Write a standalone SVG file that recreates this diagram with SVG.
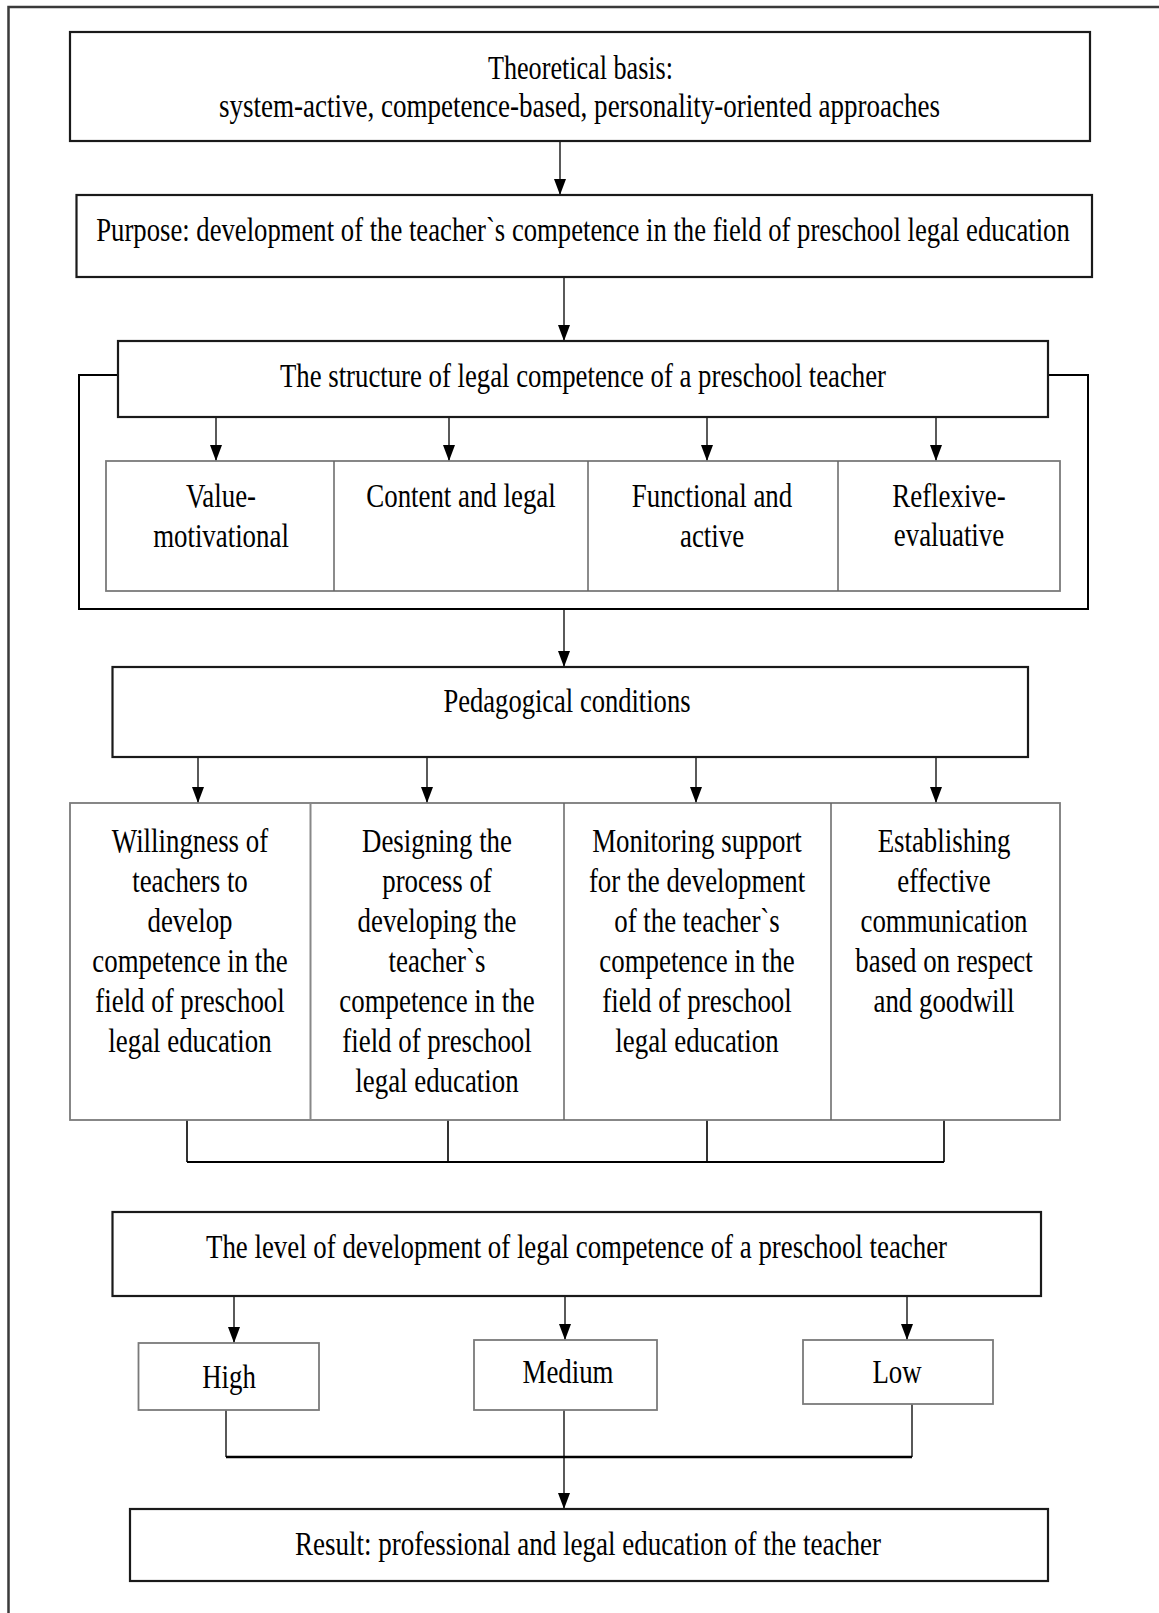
<svg xmlns="http://www.w3.org/2000/svg" width="1159" height="1613" viewBox="0 0 1159 1613">
  <style>
    .t { font-family: "Liberation Serif", "Times New Roman", serif; font-size: 34px; fill: #000; text-anchor: middle; }
    .box { fill: #fff; stroke: #1a1a1a; stroke-width: 2.2; }
    .gbox { fill: #fff; stroke: #7a7a7a; stroke-width: 1.8; }
    .div { stroke: #666; stroke-width: 1.5; fill: none; }
    .arr { stroke: #000; stroke-width: 1.3; fill: none; marker-end: url(#ah); }
    .ln { stroke: #000; stroke-width: 1.6; fill: none; }
    .frame { stroke: #3a3a3a; stroke-width: 2.5; fill: none; }
  </style>
  <defs>
    <marker id="ah" viewBox="0 0 16 12" refX="16" refY="6" markerUnits="userSpaceOnUse" markerWidth="16" markerHeight="12" orient="auto">
      <path d="M0,0 L16,6 L0,12 z" fill="#000"/>
    </marker>
  </defs>

  <path class="frame" d="M8.5,1613 V7 H1159"/>

  <g id="connectors">
    <line class="arr" x1="560" y1="141" x2="560" y2="195"/>
    <line class="arr" x1="564" y1="277" x2="564" y2="341"/>
    <line class="arr" x1="216" y1="417" x2="216" y2="461"/>
    <line class="arr" x1="449" y1="417" x2="449" y2="461"/>
    <line class="arr" x1="707" y1="417" x2="707" y2="461"/>
    <line class="arr" x1="936" y1="417" x2="936" y2="461"/>
    <path class="ln" style="stroke-width:2" d="M118,375 H79 V609 H1088 V375 H1048"/>
    <line class="arr" x1="564" y1="609" x2="564" y2="667"/>
    <line class="arr" x1="198" y1="757" x2="198" y2="803"/>
    <line class="arr" x1="427" y1="757" x2="427" y2="803"/>
    <line class="arr" x1="696" y1="757" x2="696" y2="803"/>
    <line class="arr" x1="936" y1="757" x2="936" y2="803"/>
    <path class="ln" d="M187,1120 V1162 M448,1120 V1162 M707,1120 V1162 M944,1120 V1162"/>
    <line class="ln" style="stroke-width:2.2" x1="187" y1="1162" x2="944" y2="1162"/>
    <line class="arr" x1="234" y1="1296" x2="234" y2="1343"/>
    <line class="arr" x1="565" y1="1296" x2="565" y2="1340"/>
    <line class="arr" x1="907" y1="1296" x2="907" y2="1340"/>
    <path class="ln" style="stroke-width:1.3" d="M226,1410 V1457 M912,1404 V1457"/>
    <line class="ln" style="stroke-width:2.6" x1="226" y1="1457" x2="912" y2="1457"/>
    <line class="arr" x1="564" y1="1410" x2="564" y2="1509"/>
  </g>

  <g id="theoretical-basis">
    <rect class="box" x="70" y="32" width="1020" height="109"/>
    <text class="t" x="580.5" y="79" textLength="185" lengthAdjust="spacingAndGlyphs">Theoretical basis:</text>
    <text class="t" x="579.5" y="117" textLength="721" lengthAdjust="spacingAndGlyphs">system-active, competence-based, personality-oriented approaches</text>
  </g>

  <g id="purpose">
    <rect class="box" x="76.5" y="195" width="1015.5" height="82"/>
    <g transform="translate(583 0) scale(0.75 1)">
      <text class="t" x="0" y="241" textLength="1298" lengthAdjust="spacingAndGlyphs">Purpose: development of the teacher`s competence in the field of preschool legal education</text>
    </g>
  </g>

  <g id="structure">
    <rect class="box" x="118" y="341" width="930" height="76"/>
    <text class="t" x="583" y="387" textLength="606" lengthAdjust="spacingAndGlyphs">The structure of legal competence of a preschool teacher</text>
  </g>

  <g id="components">
    <rect class="gbox" x="106" y="461" width="954" height="130"/>
    <path class="div" d="M334,461 V591 M588,461 V591 M838,461 V591"/>
    <g id="value-motivational" transform="translate(221 0) scale(0.79 1)">
      <text class="t" x="0" y="507">Value-</text>
      <text class="t" x="0" y="547">motivational</text>
    </g>
    <g id="content-legal" transform="translate(461 0) scale(0.79 1)">
      <text class="t" x="0" y="507">Content and legal</text>
    </g>
    <g id="functional-active" transform="translate(712 0) scale(0.79 1)">
      <text class="t" x="0" y="507">Functional and</text>
      <text class="t" x="0" y="547">active</text>
    </g>
    <g id="reflexive-evaluative" transform="translate(949 0) scale(0.79 1)">
      <text class="t" x="0" y="507">Reflexive-</text>
      <text class="t" x="0" y="546">evaluative</text>
    </g>
  </g>

  <g id="pedagogical-conditions">
    <rect class="box" x="112.5" y="667" width="915.5" height="90"/>
    <text class="t" x="567" y="712" textLength="247" lengthAdjust="spacingAndGlyphs">Pedagogical conditions</text>
  </g>

  <g id="conditions">
    <rect class="gbox" x="70" y="803" width="990" height="317"/>
    <path class="div" style="stroke:#888;stroke-width:2" d="M310.5,803 V1120"/>
    <path class="div" d="M564,803 V1120 M831,803 V1120"/>
    <g id="willingness" transform="translate(190 0) scale(0.79 1)">
      <text class="t" x="0" y="852">Willingness of</text>
      <text class="t" x="0" y="892">teachers to</text>
      <text class="t" x="0" y="932">develop</text>
      <text class="t" x="0" y="972">competence in the</text>
      <text class="t" x="0" y="1012">field of preschool</text>
      <text class="t" x="0" y="1052">legal education</text>
    </g>
    <g id="designing" transform="translate(437 0) scale(0.79 1)">
      <text class="t" x="0" y="852">Designing the</text>
      <text class="t" x="0" y="892">process of</text>
      <text class="t" x="0" y="932">developing the</text>
      <text class="t" x="0" y="972">teacher`s</text>
      <text class="t" x="0" y="1012">competence in the</text>
      <text class="t" x="0" y="1052">field of preschool</text>
      <text class="t" x="0" y="1092">legal education</text>
    </g>
    <g id="monitoring" transform="translate(697 0) scale(0.79 1)">
      <text class="t" x="0" y="852">Monitoring support</text>
      <text class="t" x="0" y="892">for the development</text>
      <text class="t" x="0" y="932">of the teacher`s</text>
      <text class="t" x="0" y="972">competence in the</text>
      <text class="t" x="0" y="1012">field of preschool</text>
      <text class="t" x="0" y="1052">legal education</text>
    </g>
    <g id="communication" transform="translate(944 0) scale(0.79 1)">
      <text class="t" x="0" y="852">Establishing</text>
      <text class="t" x="0" y="892">effective</text>
      <text class="t" x="0" y="932">communication</text>
      <text class="t" x="0" y="972">based on respect</text>
      <text class="t" x="0" y="1012">and goodwill</text>
    </g>
  </g>

  <g id="level">
    <rect class="box" x="112.5" y="1212" width="928.5" height="84"/>
    <text class="t" x="576.5" y="1258" textLength="741" lengthAdjust="spacingAndGlyphs">The level of development of legal competence of a preschool teacher</text>
  </g>

  <g id="high">
    <rect class="gbox" x="138.5" y="1343" width="180.5" height="67"/>
    <text class="t" x="0" y="1388" transform="translate(229 0) scale(0.79 1)">High</text>
  </g>
  <g id="medium">
    <rect class="gbox" x="474" y="1340" width="183" height="70"/>
    <text class="t" x="0" y="1383" transform="translate(568 0) scale(0.79 1)">Medium</text>
  </g>
  <g id="low">
    <rect class="gbox" x="803" y="1340" width="190" height="64"/>
    <text class="t" x="0" y="1383" transform="translate(897 0) scale(0.79 1)">Low</text>
  </g>

  <g id="result">
    <rect class="box" x="130" y="1509" width="918" height="72"/>
    <text class="t" x="588" y="1555" textLength="586" lengthAdjust="spacingAndGlyphs">Result: professional and legal education of the teacher</text>
  </g>
</svg>
